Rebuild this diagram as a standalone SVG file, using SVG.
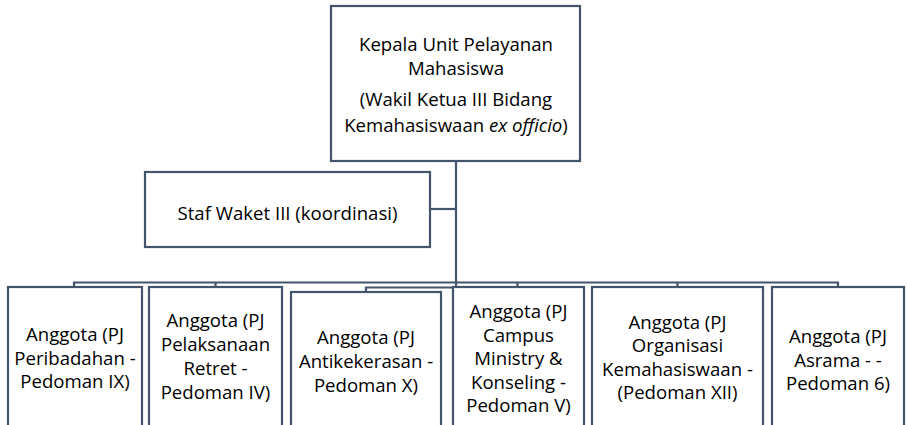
<svg xmlns="http://www.w3.org/2000/svg" width="907" height="425" viewBox="0 0 907 425">
<style>
.box{fill:#fff;stroke:#44546A;stroke-width:2.2}
.con{fill:none;stroke:#44546A;stroke-width:2.2}
text{font-family:"Open Sans",Lato,"Liberation Sans",sans-serif;font-size:18.6px;fill:#000;text-anchor:middle}
</style>
<rect width="907" height="425" fill="#fff"/>
<g id="connectors">
<path class="con" d="M456,161 V288"/>
<path class="con" d="M430,209 H456"/>
<path class="con" d="M74,287 V282.5 H838 V287"/>
<path class="con" d="M215.5,282.5 V287"/>
<path class="con" d="M517.5,282.5 V287"/>
<path class="con" d="M677.5,282.5 V287"/>
<path class="con" d="M456,287.5 H366 V292"/>
</g>
<g id="head">
<rect class="box" x="331" y="6" width="249" height="155"/>
<text x="456" y="51">Kepala Unit Pelayanan</text>
<text x="456" y="75">Mahasiswa</text>
<text x="456" y="106">(Wakil Ketua III Bidang</text>
<text x="456" y="132">Kemahasiswaan <tspan font-style="italic">ex officio</tspan>)</text>
</g>
<g id="staf">
<rect class="box" x="145" y="172" width="285" height="75"/>
<text x="287.5" y="220">Staf Waket III (koordinasi)</text>
</g>
<g id="anggota1">
<rect class="box" x="8" y="287" width="134" height="145"/>
<text x="75" y="341">Anggota (PJ</text>
<text x="75" y="364.5">Peribadahan -</text>
<text x="75" y="388">Pedoman IX)</text>
</g>
<g id="anggota2">
<rect class="box" x="149" y="287" width="133" height="145"/>
<text x="215.5" y="327">Anggota (PJ</text>
<text x="215.5" y="351">Pelaksanaan</text>
<text x="215.5" y="375">Retret -</text>
<text x="215.5" y="399">Pedoman IV)</text>
</g>
<g id="anggota3">
<rect class="box" x="291" y="292" width="150" height="140"/>
<text x="366" y="344">Anggota (PJ</text>
<text x="366" y="368">Antikekerasan -</text>
<text x="366" y="392">Pedoman X)</text>
</g>
<g id="anggota4">
<rect class="box" x="453" y="287" width="131" height="145"/>
<text x="518.5" y="318">Anggota (PJ</text>
<text x="518.5" y="341.5">Campus</text>
<text x="518.5" y="365">Ministry &amp;</text>
<text x="518.5" y="388.5">Konseling -</text>
<text x="518.5" y="412">Pedoman V)</text>
</g>
<g id="anggota5">
<rect class="box" x="592" y="287" width="171" height="145"/>
<text x="677.5" y="329">Anggota (PJ</text>
<text x="677.5" y="352">Organisasi</text>
<text x="677.5" y="375.5">Kemahasiswaan -</text>
<text x="677.5" y="399">(Pedoman XII)</text>
</g>
<g id="anggota6">
<rect class="box" x="772" y="287" width="132" height="145"/>
<text x="838" y="343">Anggota (PJ</text>
<text x="838" y="367">Asrama - -</text>
<text x="838" y="390">Pedoman 6)</text>
</g>
</svg>
